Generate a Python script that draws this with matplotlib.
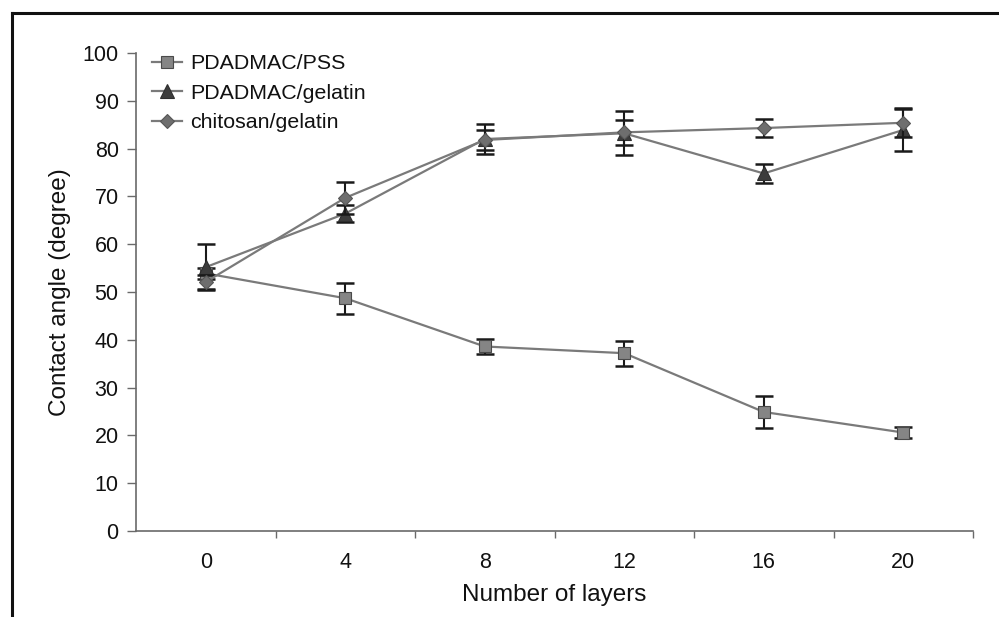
import numpy as np
import matplotlib
matplotlib.use("Agg")
import matplotlib.pyplot as plt
from matplotlib.lines import Line2D
from matplotlib.ticker import FixedLocator, NullFormatter

plt.rcParams['font.family'] = ['Liberation Sans', 'DejaVu Sans']

layers = ["0", "4", "8", "12", "16", "20"]

pss = [53.9, 48.7, 38.6, 37.2, 24.9, 20.6]
pss_err = [1.2, 3.2, 1.6, 2.6, 3.4, 1.2]

pgel = [55.2, 66.4, 82.0, 83.2, 74.8, 83.9]
pgel_err = [4.8, 1.8, 3.2, 4.6, 2.0, 4.4]

chit = [52.1, 69.7, 81.8, 83.4, 84.3, 85.4]
chit_err = [1.4, 3.4, 2.0, 2.6, 1.9, 3.0]

series_names = ["PDADMAC/PSS", "PDADMAC/gelatin", "chitosan/gelatin"]

W, H = 999, 617
fig = plt.figure(figsize=(W / 100, H / 100), dpi=100)
fig.patch.set_facecolor("white")

left, right, top, bottom = 136, 973, 53, 531
ax = fig.add_axes([left / W, 1 - bottom / H, (right - left) / W, (bottom - top) / H])
ax.set_facecolor("white")

x = np.arange(len(layers))
line_col = "#7a7a7a"
styles = [
    dict(marker="s", mfc="#858585", mec="#4a4a4a", ms=9),
    dict(marker="^", mfc="#3c3c3c", mec="#2e2e2e", ms=9.5),
    dict(marker="D", mfc="#6e6e6e", mec="#555555", ms=7.5),
]
data = [(pss, pss_err), (pgel, pgel_err), (chit, chit_err)]
handles = []
for i, ((y, e), st, name) in enumerate(zip(data, styles, series_names)):
    ax.errorbar(x, y, yerr=e, fmt="none", ecolor="#1a1a1a", elinewidth=1.5,
                capsize=6.5, capthick=1.8, zorder=2 + i)
    ax.plot(x, y, color=line_col, lw=1.6, marker=st["marker"], mfc=st["mfc"],
            mec=st["mec"], ms=st["ms"], mew=0.8, zorder=3 + i)
    handles.append(Line2D([], [], color=line_col, lw=1.6, marker=st["marker"],
                          mfc=st["mfc"], mec=st["mec"], ms=st["ms"], mew=0.8))

ax.set_xlim(-0.5, len(layers) - 0.5)
ax.set_ylim(0, 100)
ax.set_yticks(np.arange(0, 101, 10))
ax.set_xticks(x)
ax.set_xticklabels(layers)
ax.xaxis.set_minor_locator(FixedLocator(np.arange(0.5, len(layers), 1.0)))
ax.xaxis.set_minor_formatter(NullFormatter())

for s in ["top", "right"]:
    ax.spines[s].set_visible(False)
for s in ["left", "bottom"]:
    ax.spines[s].set_color("#6a6a6a")
    ax.spines[s].set_linewidth(1.2)

ax.tick_params(axis="y", which="major", direction="out", length=6.5, width=1.0,
               color="#6a6a6a", labelsize=15.5, pad=6, labelcolor="#111111")
ax.tick_params(axis="x", which="major", length=0, pad=15, labelsize=15.5,
               labelcolor="#111111")
ax.tick_params(axis="x", which="minor", direction="out", length=5, width=1.0,
               color="#6a6a6a")

ax.set_xlabel("Number of layers", fontsize=17.5, color="#111111")
ax.set_ylabel("Contact angle (degree)", fontsize=17.5, color="#111111")
ax.xaxis.set_label_coords(0.5, 1 - (595 - top) / (bottom - top), transform=ax.transAxes)
ax.yaxis.set_label_coords((60 - left) / (right - left), 0.5, transform=ax.transAxes)
ax.xaxis.label.set_va("center")
ax.yaxis.label.set_va("center")

leg = ax.legend(handles, series_names, loc="upper left",
                bbox_to_anchor=((152 - left) / (right - left), 1 - (54 - top) / (bottom - top)),
                frameon=False, fontsize=15.4, handlelength=1.4, handletextpad=0.37,
                labelspacing=0.5, borderaxespad=0, borderpad=0)
for t in leg.get_texts():
    t.set_color("#111111")

# outer frame (left and top edges)
fig.add_artist(Line2D([11.5 / W, 11.5 / W], [0, 1 - 12.5 / H], color="#111111", lw=2.2,
                      transform=fig.transFigure))
fig.add_artist(Line2D([11.5 / W, 1], [1 - 12.5 / H, 1 - 12.5 / H], color="#111111", lw=2.2,
                      transform=fig.transFigure))

fig.savefig("out.png", dpi=100, facecolor="white")
